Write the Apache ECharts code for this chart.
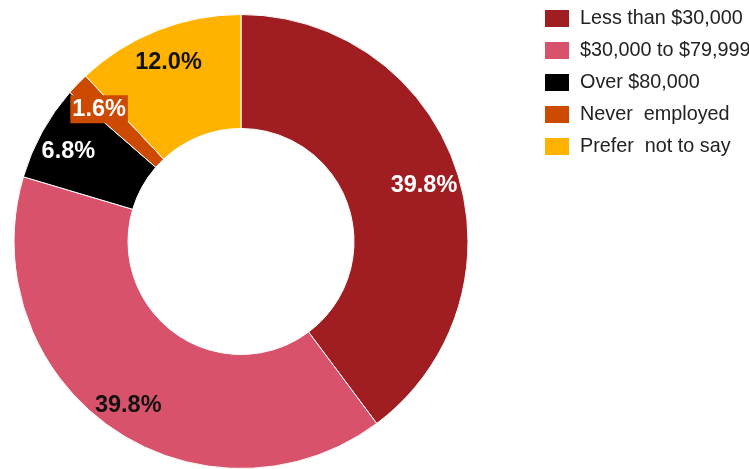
<!DOCTYPE html>
<html>
<head>
<meta charset="utf-8">
<script src="https://cdn.jsdelivr.net/npm/echarts@6/dist/echarts.min.js"></script>
<style>
html,body{margin:0;padding:0;background:#fff;}
#c{width:749px;height:469px;}
</style>
</head>
<body>
<div id="c"></div>
<script>
var categories = ["Less than $30,000", "$30,000 to $79,999", "Over $80,000", "Never  employed", "Prefer  not to say"];
var values = [39.8, 39.8, 6.8, 1.6, 12.0];
var colors = ["#A01E21", "#D9526B", "#000000", "#CC4A02", "#FFB300"];
var labelColors = ["#ffffff", "#111111", "#ffffff", "#ffffff", "#111111"];

var chart = echarts.init(document.getElementById('c'), null, {renderer: 'canvas'});

var mainData = categories.map(function (n, i) {
  return {name: n, value: values[i], itemStyle: {color: colors[i]}};
});
var labelData = categories.map(function (n, i) {
  var lbl = {color: labelColors[i]};
  if (i === 0) lbl.offset = [-4, 2];
  if (i === 1) lbl.offset = [0, -2];
  if (i === 3) {
    lbl.backgroundColor = colors[i];
    lbl.padding = [3, 2, 1, 2];
  }
  return {name: n, value: values[i], itemStyle: {color: 'rgba(0,0,0,0)'}, label: lbl};
});

chart.setOption({
  animation: false,
  color: colors,
  legend: {
    orient: 'vertical',
    left: 538,
    top: 3,
    itemWidth: 26,
    itemHeight: 19,
    itemGap: 11,
    icon: 'rect',
    data: categories,
    textStyle: {fontFamily: 'Liberation Sans, Arial', fontSize: 19.8, lineHeight: 19, color: '#222', padding: [0, 0, 0, 5]}
  },
  series: [
    {
      type: 'pie',
      center: [241, 241.5],
      radius: [113, 227],
      startAngle: 90,
      clockwise: true,
      data: mainData,
      label: {show: false},
      labelLine: {show: false},
      itemStyle: {borderColor: '#fff', borderWidth: 1},
      emphasis: {disabled: true}
    },
    {
      type: 'pie',
      center: [241, 246],
      radius: [161, 227],
      startAngle: 90,
      clockwise: true,
      silent: true,
      data: labelData,
      label: {
        show: true,
        position: 'inside',
        formatter: function (p) { return p.value.toFixed(1) + '%'; },
        fontFamily: 'Liberation Sans, Arial',
        fontWeight: 'bold',
        fontSize: 23.5
      },
      labelLine: {show: false},
      emphasis: {disabled: true}
    }
  ]
});
</script>
</body>
</html>
